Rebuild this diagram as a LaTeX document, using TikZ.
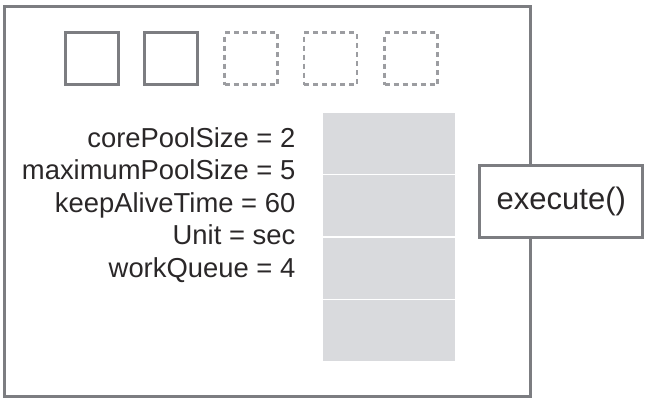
\documentclass[tikz,border=0pt]{standalone}
\usepackage{fontspec}
\setmainfont{Liberation Sans}
\definecolor{framegray}{HTML}{7C7D81}
\definecolor{dashgray}{HTML}{9C9DA1}
\definecolor{queuegray}{HTML}{D9DADD}
\definecolor{txt}{HTML}{2A2728}
\begin{document}
\begin{tikzpicture}[x=1pt,y=-1pt,
  framebox/.style={draw=framegray,line width=3pt},
  coreslot/.style={draw=framegray,line width=3pt,minimum width=53pt,minimum height=52pt,inner sep=0pt},
  spareslot/.style={draw=dashgray,line width=2.5pt,dash pattern=on 5pt off 4pt,minimum width=53pt,minimum height=52pt,inner sep=0pt},
  queuecell/.style={fill=queuegray,minimum width=132.3pt,minimum height=61pt,inner sep=0pt},
  param/.style={anchor=base east,inner sep=0pt,text=txt,font=\fontsize{27.4}{27.4}\selectfont},
  callbox/.style={draw=framegray,fill=white,line width=3pt,minimum width=163pt,minimum height=72pt,inner sep=0pt,text=txt,font=\fontsize{31}{31}\selectfont}]
\useasboundingbox (0,0) rectangle (651,412);
\draw[framebox] (4.8,6.5) rectangle (530.5,396.5);
% worker slots
\node[coreslot]  (w1) at (91.5,58.7) {};
\node[coreslot]  (w2) at (171,58.7) {};
\node[spareslot] (w3) at (251,58.7) {};
\node[spareslot] (w4) at (330.5,58.7) {};
\node[spareslot] (w5) at (411,58.7) {};
% queue
\node[queuecell] (q1) at (388.8,143.3) {};
\node[queuecell] (q2) at (388.8,205.5) {};
\node[queuecell] (q3) at (388.8,268) {};
\node[queuecell] (q4) at (388.8,330.2) {};
% parameters
\node[param] (p1) at (295.5,147) {corePoolSize = 2};
\node[param] (p2) at (295.5,179.5) {maximumPoolSize = 5};
\node[param] (p3) at (295.5,212) {keepAliveTime = 60};
\node[param] (p4) at (295.5,244.5) {Unit = sec};
\node[param] (p5) at (295.5,277) {workQueue = 4};
% execute
\node[callbox] (ex) at (561.3,201.5) {execute()};
\end{tikzpicture}
\end{document}
